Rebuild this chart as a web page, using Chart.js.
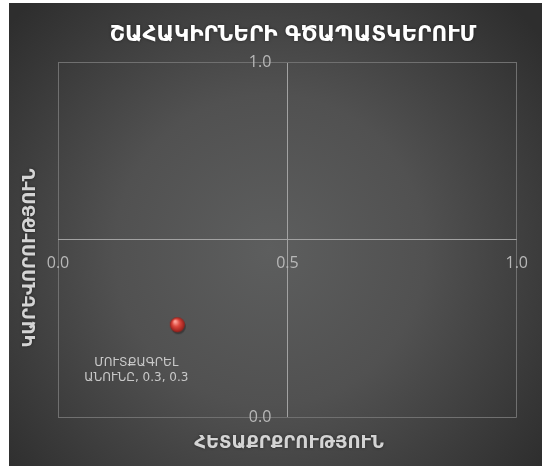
<!DOCTYPE html>
<html>
<head>
<meta charset="utf-8">
<script src="https://cdn.jsdelivr.net/npm/chart.js@4.4.1/dist/chart.umd.min.js"></script>
<style>
  html, body { margin: 0; padding: 0; background: #fff; }
  #wrap { width: 542px; height: 466px; position: relative; }
</style>
</head>
<body>
<div id="wrap"><canvas id="chart"></canvas></div>
<script>
/* Stakeholder matrix: interest (x) vs importance (y) */
const chartTitle = 'ՇԱՀԱԿԻՐՆԵՐԻ ԳԾԱՊԱՏԿԵՐՈՒՄ';
const xAxisTitle = 'ՀԵՏԱՔՐՔՐՈՒԹՅՈՒՆ';
const yAxisTitle = 'ԿԱՐԵՎՈՐՈՒԹՅՈՒՆ';
const pointNames = ['ՄՈՒՏՔԱԳՐԵԼ ԱՆՈՒՆԸ'];
const interestValues = [0.26];
const importanceValues = [0.26];
const tickValues = [0, 0.5, 1];

const armFont = '"DejaVu Sans", "Noto Sans", sans-serif';

// red glossy ball used as the point marker
function sphere(r){
  const c = document.createElement('canvas');
  c.width = c.height = r * 2 + 8;
  const g = c.getContext('2d');
  const cx = r + 4, cy = r + 4;
  g.fillStyle = 'rgba(0,0,0,0.3)';
  g.beginPath(); g.arc(cx + 1, cy + 2, r, 0, Math.PI * 2); g.fill();
  const grad = g.createRadialGradient(cx - r * 0.3, cy - r * 0.45, r * 0.1, cx, cy, r);
  grad.addColorStop(0, '#ffa49a');
  grad.addColorStop(0.45, '#dc463c');
  grad.addColorStop(1, '#921d18');
  g.fillStyle = grad;
  g.beginPath(); g.arc(cx, cy, r, 0, Math.PI * 2); g.fill();
  return c;
}

const backdrop = {
  id: 'backdrop',
  beforeDraw(chart){
    const { ctx, width, height } = chart;
    ctx.save();
    ctx.fillStyle = '#fff';
    ctx.fillRect(0, 0, width, height);
    const g = ctx.createRadialGradient(270, 250, 0, 270, 250, 345);
    g.addColorStop(0, '#5d5e5e');
    g.addColorStop(0.45, '#515151');
    g.addColorStop(1, '#2e2e2e');
    ctx.fillStyle = g;
    ctx.fillRect(9, 3, width - 9, height - 3);
    ctx.restore();
  }
};

const texts = {
  id: 'texts',
  afterDatasetsDraw(chart){
    const ctx = chart.ctx;
    const meta = chart.getDatasetMeta(0);
    ctx.save();
    ctx.fillStyle = '#c9c9c9';
    ctx.font = '12px ' + armFont;
    ctx.textAlign = 'center';
    ctx.textBaseline = 'middle';
    meta.data.forEach((pt, i) => {
      const words = pointNames[i].split(' ');
      const line2 = words.slice(1).join(' ') + ', ' + interestValues[i].toFixed(1) + ', ' + importanceValues[i].toFixed(1);
      ctx.fillText(words[0], pt.x - 41, pt.y + 38);
      ctx.fillText(line2, pt.x - 41, pt.y + 53);
    });
    ctx.restore();
  },
  afterDraw(chart){
    const ctx = chart.ctx;
    ctx.save();
    ctx.textAlign = 'center';
    ctx.textBaseline = 'middle';
    ctx.shadowColor = 'rgba(0,0,0,0.5)';
    ctx.shadowBlur = 3;
    ctx.fillStyle = '#ffffff';
    ctx.font = 'bold 21.5px ' + armFont;
    ctx.fillText(chartTitle, 293, 35);
    ctx.fillStyle = '#d4d4d4';
    ctx.font = 'bold 18px ' + armFont;
    ctx.fillText(xAxisTitle, 289, 443);
    ctx.translate(30, 258);
    ctx.rotate(-Math.PI / 2);
    ctx.fillText(yAxisTitle, 0, 0);
    ctx.restore();
  }
};

const gridColor = c => (c.tick && c.tick.value === 0.5) ? '#a2a2a2' : '#707070';

new Chart(document.getElementById('chart'), {
  type: 'scatter',
  data: {
    datasets: [{
      label: pointNames[0],
      data: interestValues.map((v, i) => ({ x: v, y: importanceValues[i] })),
      pointStyle: sphere(7.5),
      pointRadius: 8
    }]
  },
  options: {
    responsive: true,
    maintainAspectRatio: false,
    animation: false,
    layout: { padding: { left: 58, right: 24, top: 62, bottom: 49 } },
    plugins: { legend: { display: false }, tooltip: { enabled: false } },
    scales: {
      x: {
        type: 'linear', min: 0, max: 1,
        position: { y: 0.5 },
        afterBuildTicks: s => { s.ticks = tickValues.map(v => ({ value: v })); },
        grid: { color: gridColor, drawTicks: false },
        border: { display: false },
        ticks: { color: '#b8b8b8', padding: 14, maxRotation: 0, font: { family: 'Open Sans', size: 16 }, callback: v => v.toFixed(1) }
      },
      y: {
        type: 'linear', min: 0, max: 1,
        // labels sit just left of the centre line (the line itself is the x grid line at 0.5)
        position: { x: 0.465 },
        afterBuildTicks: s => { s.ticks = tickValues.map(v => ({ value: v })); },
        grid: { color: gridColor, drawTicks: false },
        border: { display: false },
        ticks: { color: '#b8b8b8', font: { family: 'Open Sans', size: 16 }, callback: v => v === 0.5 ? '' : v.toFixed(1) }
      }
    }
  },
  plugins: [backdrop, texts]
});
</script>
</body>
</html>
